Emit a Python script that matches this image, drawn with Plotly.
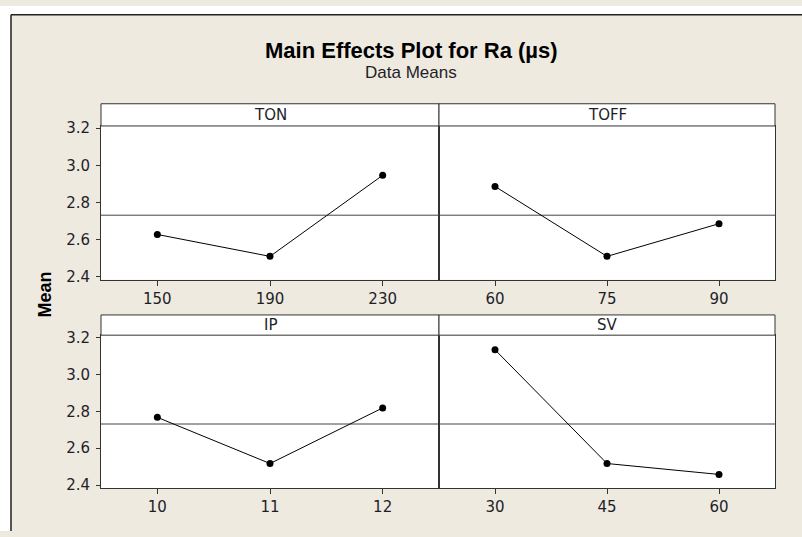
import plotly.graph_objects as go

# ---- data ----
ton_levels = ["150", "190", "230"]
ton_means = [2.627, 2.509, 2.946]
toff_levels = ["60", "75", "90"]
toff_means = [2.886, 2.509, 2.685]
ip_levels = ["10", "11", "12"]
ip_means = [2.767, 2.517, 2.818]
sv_levels = ["30", "45", "60"]
sv_means = [3.133, 2.517, 2.458]
overall_mean = 2.731
y_ticks = [2.4, 2.6, 2.8, 3.0, 3.2]

W, H = 802, 537
BG = "#EEEAE0"
LINE = "#333333"
TXT = "#1e1e28"


def px(x):
    return x / W


def py(y):
    return 1 - y / H


# panel pixel geometry
cols = [(101, 439), (439, 775)]
rows = [(100, 122.7, 280), (316, 336.7, 493.3)]

panels = [
    ("TON", ton_levels, ton_means, 0, 0),
    ("TOFF", toff_levels, toff_means, 1, 0),
    ("IP", ip_levels, ip_means, 0, 1),
    ("SV", sv_levels, sv_means, 1, 1),
]

fig = go.Figure()
layout = dict(
    width=W, height=H,
    margin=dict(l=0, r=0, t=0, b=0),
    paper_bgcolor=BG, plot_bgcolor="white",
    showlegend=False,
    shapes=[], annotations=[],
)

yrange = [2.383, 3.212]

for i, (name, levels, means, c, r) in enumerate(panels):
    n = "" if i == 0 else str(i + 1)
    x0, x1 = cols[c]
    st, dt, db = rows[r]
    fig.add_trace(go.Scatter(
        x=levels, y=means, xaxis="x" + n, yaxis="y" + n,
        mode="lines+markers",
        line=dict(color="black", width=1),
        marker=dict(color="black", size=7),
        hoverinfo="skip",
    ))
    layout["xaxis" + n] = dict(
        domain=[px(x0), px(x1)], anchor="y" + n,
        type="category", categoryorder="array", categoryarray=levels,
        range=[-0.5, 2.5],
        showline=True, linecolor=LINE, linewidth=1, mirror=True,
        showgrid=False, zeroline=False,
        ticks="outside", ticklen=5, tickcolor=LINE, tickwidth=1,
        tickfont=dict(family="DejaVu Sans", size=15, color=TXT),
    )
    ydict = dict(
        domain=[py(db), py(dt)], anchor="x" + n,
        range=yrange,
        showline=True, linecolor=LINE, linewidth=1, mirror=True,
        showgrid=False, zeroline=False,
        tickvals=y_ticks, tickformat=".1f",
        tickfont=dict(family="DejaVu Sans", size=15, color=TXT),
    )
    if c == 0:
        ydict.update(ticks="outside", ticklen=4, tickcolor=LINE, tickwidth=1,
                     ticklabelstandoff=3)
    else:
        ydict.update(ticks="", showticklabels=False)
    layout["yaxis" + n] = ydict

    # overall mean reference line
    layout["shapes"].append(dict(
        type="line", xref="x" + n + " domain", yref="y" + n,
        x0=0, x1=1, y0=overall_mean, y1=overall_mean,
        line=dict(color="#444444", width=1), layer="below",
    ))
    # strip header
    layout["shapes"].append(dict(
        type="rect", xref="paper", yref="paper",
        x0=px(x0), x1=px(x1), y0=py(dt), y1=py(st),
        fillcolor="white", line=dict(color=LINE, width=1),
    ))
    layout["annotations"].append(dict(
        text=name, xref="paper", yref="paper",
        x=px((x0 + x1) / 2), y=py((st + dt) / 2),
        xanchor="center", yanchor="middle", showarrow=False,
        font=dict(family="DejaVu Sans", size=15, color=TXT),
    ))

# outer white margin and frame lines
layout["shapes"] += [
    dict(type="rect", xref="paper", yref="paper", x0=0, x1=px(10.5), y0=0, y1=1,
         fillcolor="white", line=dict(width=0)),
    dict(type="rect", xref="paper", yref="paper", x0=0, x1=1, y0=py(8.5), y1=1,
         fillcolor="white", line=dict(width=0)),
    dict(type="line", xref="paper", yref="paper", x0=px(11), x1=px(11), y0=0, y1=py(9),
         line=dict(color="#222222", width=1.5)),
    dict(type="line", xref="paper", yref="paper", x0=px(11), x1=1, y0=py(9), y1=py(9),
         line=dict(color="#222222", width=1.5)),
]

layout["annotations"] += [
    dict(text="<b>Main Effects Plot for Ra (µs)</b>", xref="paper", yref="paper",
         x=px(411), y=py(46), xanchor="center", yanchor="middle", showarrow=False,
         font=dict(family="Liberation Sans", size=22, color="black")),
    dict(text="Data Means", xref="paper", yref="paper",
         x=px(411), y=py(68), xanchor="center", yanchor="middle", showarrow=False,
         font=dict(family="Liberation Sans", size=17, color=TXT)),
    dict(text="<b>Mean</b>", xref="paper", yref="paper",
         x=px(45), y=py(295), xanchor="center", yanchor="middle", showarrow=False,
         textangle=-90,
         font=dict(family="Liberation Sans", size=18, color="black")),
]

fig.update_layout(**layout)
fig.write_html(
    "out.html",
    config={"displayModeBar": False},
    post_script=(
        "document.documentElement.style.margin='0';"
        "document.body.style.margin='0';document.body.style.padding='0';"
        "document.body.style.overflow='hidden';"
        "document.body.style.background='" + BG + "';"
    ),
)
